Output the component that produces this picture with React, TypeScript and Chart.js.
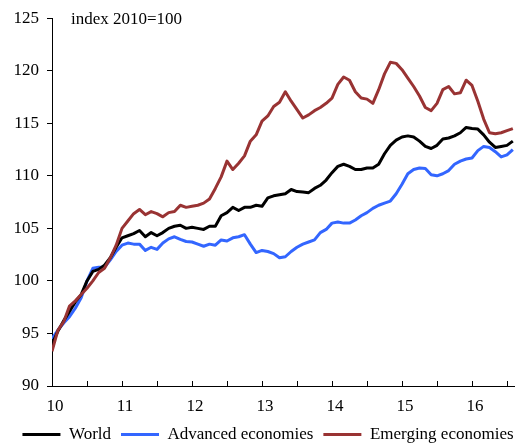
import { useEffect, useRef } from 'react';
import { Chart, registerables } from 'chart.js';

Chart.register(...registerables);

const FONT = '"Liberation Serif", "Times New Roman", serif';

const seriesNames = ['World', 'Advanced economies', 'Emerging economies'];
const seriesColors = ['#000000', '#3366ff', '#993333'];
const unitNote = 'index 2010=100';

// monthly values, Jan 2010 onwards
const FIRST_YEAR = 10;
const world = [
  94.0, 95.2, 96.2, 97.1, 98.0, 98.7, 100.0, 100.9, 101.1, 101.5,
  102.2, 103.2, 104.1, 104.3, 104.5, 104.8, 104.2, 104.6, 104.3, 104.6,
  105.0, 105.2, 105.3, 105.0, 105.1, 105.0, 104.9, 105.2, 105.2, 106.2,
  106.5, 107.0, 106.7, 107.0, 107.0, 107.2, 107.1, 107.9, 108.1, 108.2,
  108.3, 108.7, 108.5, 108.45, 108.4, 108.8, 109.1, 109.6, 110.3, 110.9,
  111.1, 110.9, 110.6, 110.6, 110.75, 110.75, 111.1, 112.1, 112.9, 113.4,
  113.7, 113.8, 113.7, 113.3, 112.8, 112.6, 112.9, 113.5, 113.6, 113.8,
  114.1, 114.6, 114.5, 114.45, 113.9, 113.2, 112.7, 112.8, 112.9, 113.3,
];
const advanced = [
  94.5, 95.3, 96.0, 96.6, 97.4, 98.4, 100.0, 101.2, 101.3, 101.3,
  102.0, 102.8, 103.4, 103.6, 103.5, 103.5, 102.9, 103.2, 103.0, 103.6,
  104.0, 104.2, 103.95, 103.75, 103.7, 103.5, 103.3, 103.5, 103.4, 103.9,
  103.8, 104.1, 104.2, 104.4, 103.5, 102.7, 102.9, 102.8, 102.6, 102.2,
  102.3, 102.8, 103.2, 103.5, 103.7, 103.9, 104.6, 104.9, 105.5, 105.6,
  105.5, 105.5, 105.8, 106.2, 106.5, 106.9, 107.2, 107.4, 107.6, 108.3,
  109.2, 110.2, 110.6, 110.75, 110.7, 110.1, 110.0, 110.2, 110.5, 111.1,
  111.4, 111.6, 111.7, 112.4, 112.8, 112.7, 112.3, 111.8, 112.0, 112.5,
];
const emerging = [
  93.3, 95.3, 96.1, 97.6, 98.1, 98.7, 99.3, 100.0, 100.8, 101.2,
  102.2, 103.4, 105.0, 105.7, 106.4, 106.8, 106.3, 106.6, 106.4, 106.1,
  106.5, 106.6, 107.2, 107.0, 107.1, 107.2, 107.4, 107.8, 108.8, 109.9,
  111.4, 110.6, 111.2, 111.9, 113.3, 113.9, 115.2, 115.7, 116.6, 117.0,
  118.0, 117.1, 116.3, 115.5, 115.8, 116.2, 116.5, 116.9, 117.4, 118.7,
  119.4, 119.1, 118.0, 117.4, 117.3, 116.9, 118.2, 119.7, 120.8, 120.7,
  120.1, 119.3, 118.5, 117.6, 116.5, 116.2, 116.9, 118.2, 118.5, 117.8,
  117.9, 119.1, 118.6, 117.1, 115.4, 114.1, 114.0, 114.1, 114.3, 114.5,
];

const xTickValues = [10, 10.5, 11, 11.5, 12, 12.5, 13, 13.5, 14, 14.5, 15, 15.5, 16, 16.5];
const X_MIN = 10;
const X_MAX = 16.6;
const Y_MIN = 90;
const Y_MAX = 125;
const Y_STEP = 5;

const toPoints = (vals: number[]) => vals.map((v, i) => ({ x: FIRST_YEAR + i / 12, y: v }));

const notePlugin = {
  id: 'unitNote',
  afterDraw(chart: any) {
    const ctx = chart.ctx;
    ctx.save();
    ctx.font = `17px ${FONT}`;
    ctx.fillStyle = '#000';
    ctx.textAlign = 'left';
    ctx.textBaseline = 'alphabetic';
    ctx.fillText(unitNote, chart.chartArea.left + 19, chart.chartArea.top + 5.5);
    ctx.restore();
  },
};

// inward tick marks on the x axis
const innerTicksPlugin = {
  id: 'innerTicks',
  afterDraw(chart: any) {
    const ctx = chart.ctx;
    const xs = chart.scales.x;
    const bottom = chart.chartArea.bottom;
    ctx.save();
    ctx.strokeStyle = '#000';
    ctx.lineWidth = 1;
    ctx.beginPath();
    xs.ticks.forEach((t: any) => {
      const px = Math.round(xs.getPixelForValue(t.value)) + 0.5;
      ctx.moveTo(px, bottom);
      ctx.lineTo(px, bottom - 5);
    });
    ctx.stroke();
    ctx.restore();
  },
};

export default function App() {
  const ref = useRef<HTMLCanvasElement>(null);

  useEffect(() => {
    if (!ref.current) return;
    const font = { family: FONT, size: 17 };
    const allSeries = [world, advanced, emerging];
    const orders = [1, 2, 0];
    const chart = new Chart(ref.current, {
      type: 'line',
      data: {
        datasets: allSeries.map((vals, k) => ({
          label: seriesNames[k],
          data: toPoints(vals),
          borderColor: seriesColors[k],
          backgroundColor: seriesColors[k],
          borderWidth: 3,
          pointRadius: 0,
          tension: 0,
          borderJoinStyle: 'round',
          fill: false,
          order: orders[k],
        })),
      },
      options: {
        animation: false,
        responsive: false,
        events: [],
        layout: { padding: { left: 6, right: 0, top: 16, bottom: 0 } },
        plugins: {
          tooltip: { enabled: false },
          legend: {
            position: 'bottom',
            labels: {
              boxWidth: 38,
              boxHeight: 3,
              padding: 10,
              color: '#000',
              font,
              sort: (a: any, b: any) => a.datasetIndex - b.datasetIndex,
              generateLabels: (c: any) =>
                Chart.defaults.plugins.legend.labels
                  .generateLabels(c)
                  .map((l: any) => ({ ...l, fillStyle: l.strokeStyle, lineWidth: 0 })),
            },
          },
        },
        scales: {
          x: {
            type: 'linear',
            min: X_MIN,
            max: X_MAX,
            afterBuildTicks: (s: any) => {
              s.ticks = xTickValues.map((v) => ({ value: v }));
            },
            afterFit: (s: any) => {
              s.height = 30;
            },
            ticks: {
              autoSkip: false,
              maxRotation: 0,
              padding: 10,
              labelOffset: 3,
              color: '#000',
              font,
              callback: (v: any) => (Number.isInteger(v) ? String(v) : ''),
            },
            grid: { drawOnChartArea: false, drawTicks: false, color: '#000' },
            border: { color: '#000', width: 1 },
          },
          y: {
            min: Y_MIN,
            max: Y_MAX,
            afterFit: (s: any) => {
              s.width = 46;
            },
            ticks: { stepSize: Y_STEP, padding: 8, color: '#000', font },
            grid: { drawOnChartArea: false, tickLength: 5, color: '#000' },
            border: { color: '#000', width: 1 },
          },
          yRight: {
            position: 'right',
            display: true,
            afterFit: (s: any) => {
              s.width = 16;
            },
            ticks: { display: false },
            grid: { display: false },
            border: { display: false },
          },
        },
      },
      plugins: [notePlugin, innerTicksPlugin],
    } as any);
    return () => chart.destroy();
  }, []);

  return (
    <div style={{ position: 'absolute', left: 0, top: 0, width: 516, height: 447, overflow: 'hidden', background: '#fff' }}>
      <canvas ref={ref} width={530} height={453} style={{ display: 'block' }} />
    </div>
  );
}
